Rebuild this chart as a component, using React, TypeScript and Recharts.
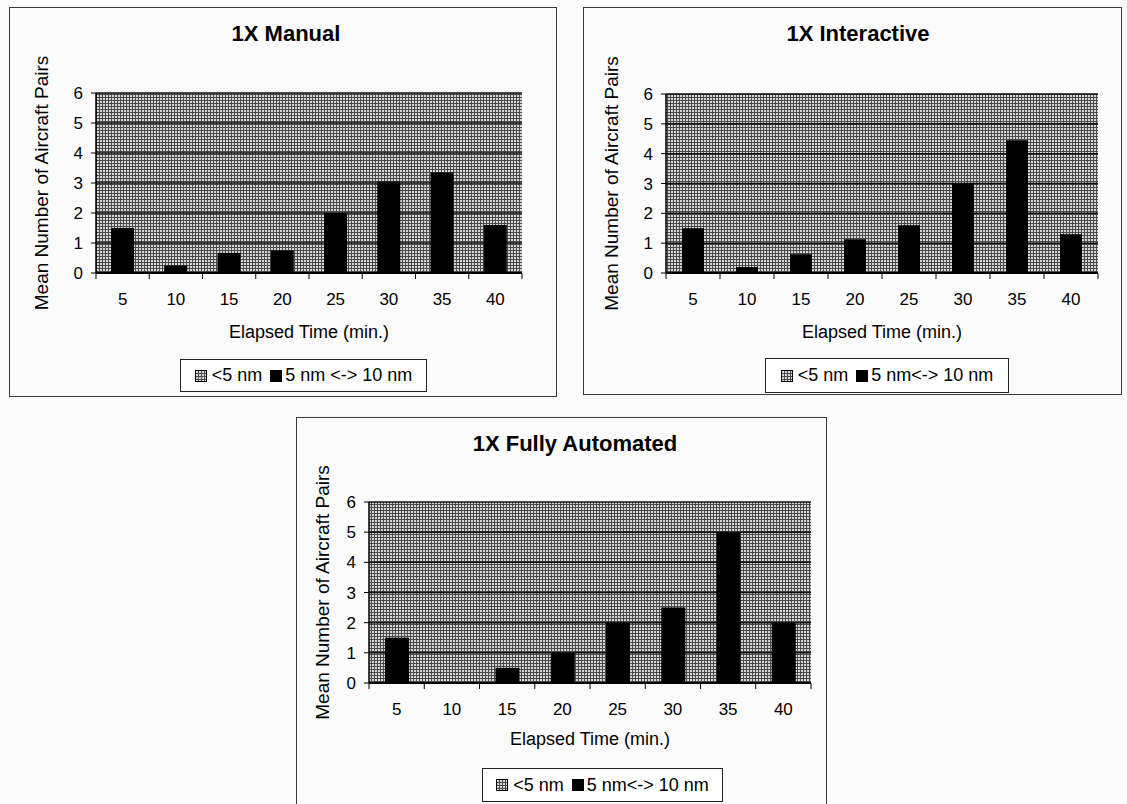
import React from 'react';
import { BarChart, Bar, XAxis, YAxis, CartesianGrid } from 'recharts';

const categories = ['5', '10', '15', '20', '25', '30', '35', '40'];

const manualUnder5 = [0, 0, 0, 0, 0, 0, 0, 0];
const manualBetween = [1.5, 0.25, 0.67, 0.75, 2.0, 3.05, 3.35, 1.6];

const interactiveUnder5 = [0, 0, 0, 0, 0, 0, 0, 0];
const interactiveBetween = [1.5, 0.2, 0.63, 1.13, 1.6, 3.0, 4.45, 1.3];

const automatedUnder5 = [0, 0, 0, 0, 0, 0, 0, 0];
const automatedBetween = [1.5, 0, 0.5, 1.0, 2.0, 2.5, 5.0, 2.0];

const yTicks = [0, 1, 2, 3, 4, 5, 6];

const under5Name = '<5 nm';
const manualBetweenName = '5 nm <-> 10 nm';
const interactiveBetweenName = '5 nm<-> 10 nm';
const automatedBetweenName = '5 nm<-> 10 nm';

const titles = ['1X Manual', '1X Interactive', '1X Fully Automated'];
const xAxisTitle = 'Elapsed Time (min.)';
const yAxisTitle = 'Mean Number of Aircraft Pairs';

const FONT = '"Liberation Sans", Arial, Helvetica, sans-serif';
const Y_AXIS_W = 60;
const X_AXIS_H = 30;

function buildRows(under5: number[], between: number[]) {
  return categories.map((c, i) => ({ time: c, under5: under5[i], between: between[i] }));
}

type Layout = {
  left: number; top: number; w: number; h: number;
  pl: number; pt: number; pw: number; ph: number;
  barSize: number;
  titleX: number; titleTop: number;
  yLabelDist: number;
  xLabelDist: number;
  legend: { x: number; y: number; w: number; h: number };
};

const layouts: Layout[] = [
  { left: 9, top: 7, w: 548, h: 390, pl: 87, pt: 86, pw: 426, ph: 180, barSize: 23,
    titleX: 277, titleTop: 14, yLabelDist: 55, xLabelDist: 59,
    legend: { x: 171, y: 352, w: 247, h: 33 } },
  { left: 583, top: 7, w: 539, h: 388, pl: 83, pt: 87, pw: 432, ph: 179, barSize: 22,
    titleX: 275, titleTop: 14, yLabelDist: 55, xLabelDist: 59,
    legend: { x: 182, y: 351, w: 244, h: 35 } },
  { left: 296, top: 417, w: 531, h: 400, pl: 73, pt: 85, pw: 442, ph: 181, barSize: 24,
    titleX: 279, titleTop: 14, yLabelDist: 47, xLabelDist: 56,
    legend: { x: 186, y: 351, w: 241, h: 34 } },
];

function DotPattern({ id }: { id: string }) {
  return (
    <pattern id={id} x={0} y={0} width={3} height={3} patternUnits="userSpaceOnUse">
      <rect x={0} y={0} width={3} height={3} fill="#d6d6d6" />
      <rect x={0} y={0} width={3} height={1} fill="#4a4a4a" />
      <rect x={0} y={0} width={1} height={3} fill="#4a4a4a" />
    </pattern>
  );
}

function makeXTick(halfBand: number) {
  return (props: any) => {
    const { x, y, payload, index } = props;
    const last = index === categories.length - 1;
    return (
      <g>
        <line x1={x - halfBand} x2={x - halfBand} y1={y} y2={y + 6} stroke="#000" strokeWidth={1} />
        {last && <line x1={x + halfBand} x2={x + halfBand} y1={y} y2={y + 6} stroke="#000" strokeWidth={1} />}
        <text x={x} y={y + 32} textAnchor="middle" fontSize={17} fill="#000" fontFamily={FONT}>
          {payload.value}
        </text>
      </g>
    );
  };
}

function Panel({ idx, under5, between, betweenName }: { idx: number; under5: number[]; between: number[]; betweenName: string }) {
  const L = layouts[idx];
  const rows = buildRows(under5, between);
  const pid = `dots${idx}`;
  const margin = {
    top: L.pt,
    left: L.pl - Y_AXIS_W,
    right: L.w - L.pl - L.pw,
    bottom: L.h - L.pt - L.ph - X_AXIS_H,
  };
  const halfBand = L.pw / categories.length / 2;
  return (
    <div style={{ position: 'absolute', left: L.left, top: L.top, width: L.w, height: L.h, border: '1px solid #3a3a3a', boxSizing: 'border-box' }}>
      <div style={{ position: 'absolute', left: L.titleX - 200 - 1, width: 400, top: L.titleTop - 1, textAlign: 'center', fontWeight: 'bold', fontSize: 22, lineHeight: '26px', fontFamily: FONT, color: '#000' }}>
        {titles[idx]}
      </div>
      <div style={{ position: 'absolute', left: -1, top: -1 }}>
        <BarChart width={L.w} height={L.h} data={rows} margin={margin} barGap={-L.barSize}>
          <defs>
            <DotPattern id={pid} />
          </defs>
          <CartesianGrid yAxisId="left" vertical={false} horizontal={true} stroke="#111" strokeWidth={1.5} fill={`url(#${pid})`} fillOpacity={1} />
          <XAxis
            dataKey="time"
            height={X_AXIS_H}
            axisLine={{ stroke: '#000', strokeWidth: 2 }}
            tickLine={false}
            tickSize={0}
            tickMargin={0}
            interval={0}
            tick={makeXTick(halfBand)}
            label={{ value: xAxisTitle, position: 'bottom', offset: L.xLabelDist - X_AXIS_H - 6.5, style: { fontSize: 18, fontFamily: FONT, fill: '#000' } }}
          />
          <YAxis
            yAxisId="left"
            width={Y_AXIS_W}
            domain={[0, 6]}
            ticks={yTicks}
            interval={0}
            axisLine={{ stroke: '#000', strokeWidth: 1.5 }}
            tickLine={{ stroke: '#000' }}
            tickSize={5}
            tickMargin={8}
            tick={{ fontSize: 17, fontFamily: FONT, fill: '#000' }}
            label={{ value: yAxisTitle, angle: -90, position: 'insideLeft', offset: Y_AXIS_W - L.yLabelDist, style: { textAnchor: 'middle', fontSize: 19, fontFamily: FONT, fill: '#000' } }}
          />
          <YAxis
            yAxisId="right"
            orientation="right"
            width={0}
            domain={[0, 6]}
            ticks={yTicks}
            tick={false}
            tickLine={false}
            axisLine={{ stroke: '#222', strokeWidth: 1.5 }}
          />
          <Bar yAxisId="left" dataKey="under5" name={under5Name} fill={`url(#${pid})`} barSize={L.barSize} isAnimationActive={false} />
          <Bar yAxisId="left" dataKey="between" name={betweenName} fill="#000" barSize={L.barSize} isAnimationActive={false} />
        </BarChart>
      </div>
      <div style={{ position: 'absolute', left: L.legend.x - 1, top: L.legend.y - 1, width: L.legend.w, height: L.legend.h, border: '1px solid #222', boxSizing: 'border-box', background: '#fff', display: 'flex', alignItems: 'center', justifyContent: 'center', fontFamily: FONT, fontSize: 18, color: '#000', whiteSpace: 'nowrap' }}>
        <svg width={12} height={12} style={{ marginRight: 5 }}>
          <defs>
            <DotPattern id={`leg${idx}`} />
          </defs>
          <rect x={0.5} y={0.5} width={11} height={11} fill={`url(#leg${idx})`} stroke="#000" strokeWidth={1} />
        </svg>
        <span>{under5Name}</span>
        <svg width={12} height={12} style={{ marginLeft: 8, marginRight: 3 }}>
          <rect x={0} y={0} width={12} height={12} fill="#000" />
        </svg>
        <span>{betweenName}</span>
      </div>
    </div>
  );
}

export default function App() {
  return (
    <div style={{ position: 'fixed', left: 0, top: 0, width: 1127, height: 804, overflow: 'hidden', background: '#fbfbfb' }}>
      <Panel idx={0} under5={manualUnder5} between={manualBetween} betweenName={manualBetweenName} />
      <Panel idx={1} under5={interactiveUnder5} between={interactiveBetween} betweenName={interactiveBetweenName} />
      <Panel idx={2} under5={automatedUnder5} between={automatedBetween} betweenName={automatedBetweenName} />
    </div>
  );
}
